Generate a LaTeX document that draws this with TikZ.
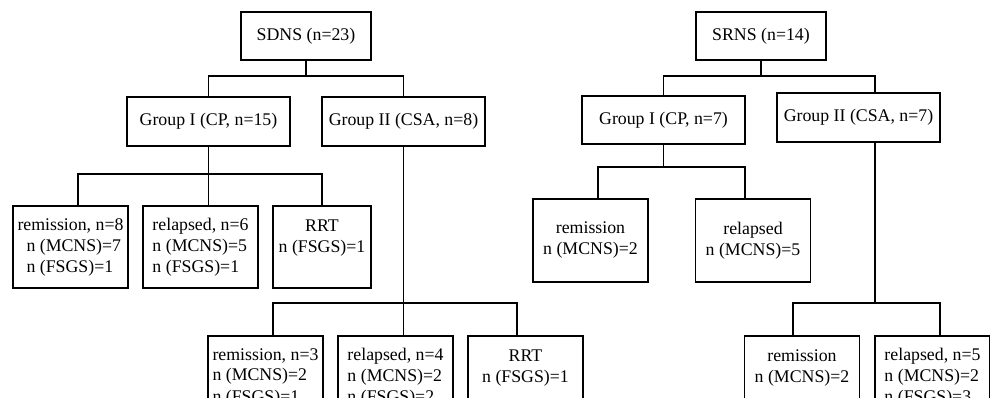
\documentclass[tikz,border=0pt]{standalone}
\usepackage{fontspec}
\setmainfont{Liberation Serif}
\usepackage{tikz}

\begin{document}
\begin{tikzpicture}[x=1pt, y=-1pt, line width=1.4pt,
			every node/.style = {shape=rectangle,
					draw, align=center, inner sep=0pt,
					font=\fontsize{17.8}{21}\selectfont},
				top/.style={minimum width=130pt, minimum height=48pt},
				grp/.style={minimum width=163pt, minimum height=49pt},
				leaf/.style={minimum width=115pt, minimum height=82pt}]
			\clip (0,0) rectangle (990,398);
			\node[top] (sdns) at (306,36) {SDNS (n=23)};
			\node[grp] (cpl) at (208.5,121.5) {Group I (CP, n=15)};
			\node[grp] (csal) at (403.5,121.5) {Group II (CSA, n=8)};
			\node[leaf, align=left] (cpl-rem) at (70.5,247) {remission, n=8\\\hspace{9pt}n (MCNS)=7\\\hspace{9pt}n (FSGS)=1};
			\node[leaf, align=left] (cpl-rel) at (200.5,247) {relapsed, n=6\\n (MCNS)=5\\n (FSGS)=1};
			\node[leaf, minimum width=98pt] (cpl-rrt) at (322,247) {RRT\\n (FSGS)=1\\\mbox{}};
			\node[leaf, align=left] (csal-rem) at (265.5,377) {remission, n=3\\n (MCNS)=2\\n (FSGS)=1};
			\node[leaf, align=left] (csal-rel) at (395.5,377) {relapsed, n=4\\n (MCNS)=2\\n (FSGS)=2};
			\node[leaf] (csal-rrt) at (525.5,377) {RRT\\n (FSGS)=1\\\mbox{}};

			\node[top] (srns) at (761,36) {SRNS (n=14)};
			\node[grp, minimum height=48pt] (cpr) at (663.5,120) {Group I (CP, n=7)};
			\node[grp] (csar) at (858.5,117.5) {Group II (CSA, n=7)};
			\node[leaf, minimum height=83pt] (cpr-rem) at (590.5,240.5) {remission\\n (MCNS)=2};
			\node[leaf, minimum height=83pt] (cpr-rel) at (753,240.5) {relapsed\\n (MCNS)=5};
			\node[leaf] (csar-rem) at (802,377) {remission\\n (MCNS)=2\\\mbox{}};
			\node[leaf, align=left] (csar-rel) at (932.5,377) {relapsed, n=5\\n (MCNS)=2\\n (FSGS)=3};

			\coordinate (sdns-j) at (306,76);
			\draw (sdns.south) -- (sdns-j);
			\draw (cpl.north) |- (sdns-j) -| (csal.north);
			\coordinate (cpl-j) at (208.5,174);
			\draw (cpl.south) -- (cpl-j);
			\draw ([xshift=7.5pt]cpl-rem.north) |- (cpl-j) -| (cpl-rrt.north);
			\draw (cpl-j) -- ([xshift=8pt]cpl-rel.north);
			\coordinate (csal-j) at (403.5,303);
			\draw (csal.south) -- (csal-j);
			\draw ([xshift=7.5pt]csal-rem.north) |- (csal-j) -| ([xshift=-8.5pt]csal-rrt.north);
			\draw (csal-j) -- ([xshift=8pt]csal-rel.north);

			\coordinate (srns-j) at (761,76);
			\draw (srns.south) -- (srns-j);
			\draw (cpr.north) |- (srns-j) -| ([xshift=16.5pt]csar.north);
			\coordinate (cpr-j) at (663.5,167);
			\draw (cpr.south) -- (cpr-j);
			\draw ([xshift=7.5pt]cpr-rem.north) |- (cpr-j) -| ([xshift=-8pt]cpr-rel.north);
			\coordinate (csar-j) at (875,303);
			\draw ([xshift=16.5pt]csar.south) -- (csar-j);
			\draw ([xshift=-9pt]csar-rem.north) |- (csar-j) -| ([xshift=7.5pt]csar-rel.north);
		\end{tikzpicture}
\end{document}
